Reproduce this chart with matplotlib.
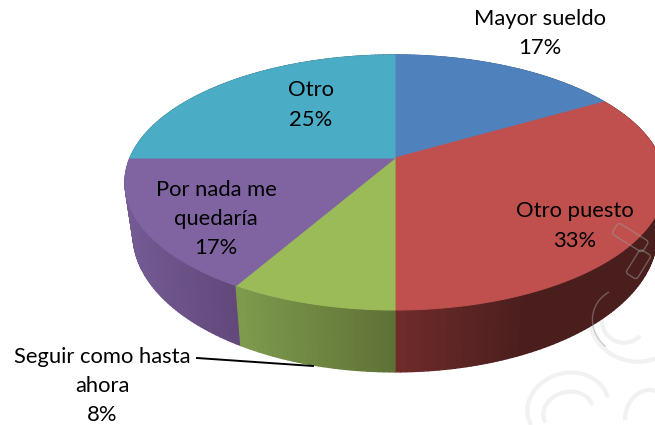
import numpy as np
import matplotlib
matplotlib.use("Agg")
import matplotlib.pyplot as plt
from matplotlib.collections import PolyCollection
from matplotlib.colors import to_rgb
from matplotlib.patches import Arc, FancyBboxPatch, Polygon
from matplotlib.transforms import Affine2D

plt.rcParams['font.family'] = ['Lato', 'DejaVu Sans']

categories = ["Mayor sueldo", "Otro puesto", "Seguir como hasta\nahora", "Por nada me\nquedaría", "Otro"]
counts = [2, 4, 1, 2, 3]
top_colors = ["#4f81bd", "#c0504d", "#9bbb59", "#8064a2", "#4bacc6"]
side_light = ["#3c6290", "#702c2b", "#7f9c4e", "#745b94", "#3a8296"]
side_dark = ["#2d4a6c", "#4a1e1d", "#5f7236", "#62487b", "#2c6272"]

# pie geometry in picture pixels
cx, cy = 395, 158
radius = 265
tilt = 122.8
persp = 0.192
depth = 50
shrink = 0.03


def project(theta, drop=0.0):
    # theta in degrees clockwise from the top of the pie
    t = np.radians(theta)
    u, v = np.sin(t), np.cos(t)
    s = 1 / (1 + persp * v)
    # the bottom rim sits a little further away, so it is narrower
    k = 1 - shrink * drop / depth
    return cx + radius * u * s * k, cy - tilt * v * s + drop * s


def mix(c1, c2, t):
    a, b = np.array(to_rgb(c1)), np.array(to_rgb(c2))
    return tuple(a + (b - a) * t)


fig = plt.figure(figsize=(6.55, 4.25), dpi=100)
ax = fig.add_axes([0, 0, 1, 1])
ax.set_xlim(0, 655)
ax.set_ylim(425, 0)
ax.axis("off")

total = np.sum(counts)
edges = np.concatenate([[0], np.cumsum(counts)]) * 360 / total
pct = [round(100 * c / total) for c in counts]

# watermark behind the pie
wm2 = dict(fill=False, edgecolor="#f1f1f1", linewidth=3, zorder=0)
ax.add_patch(Arc((634, 322), 90, 78, angle=20, theta1=20, theta2=230, **wm2))
ax.add_patch(Arc((625, 318), 46, 50, angle=20, theta1=30, theta2=220, **wm2))
ax.add_patch(Arc((568, 408), 82, 70, angle=-15, theta1=170, theta2=360, **wm2))
ax.add_patch(Arc((568, 412), 50, 40, angle=-15, theta1=170, theta2=360, **wm2))
ax.add_patch(Arc((650, 420), 50, 60, angle=0, theta1=180, theta2=300, **wm2))

# side wall, back to front
quads, quad_cols, quad_v = [], [], []
for i in range(len(counts)):
    th = np.arange(edges[i], edges[i + 1] + 0.01, 1.0)
    front = th[np.cos(np.radians(th)) < 0.35]
    if len(front) == 0:
        front = th
    x0, x1 = project(front)[0].min(), project(front)[0].max()
    for a, b in zip(th[:-1], th[1:]):
        xa, ya = project(a)
        xb, yb = project(b)
        xa2, ya2 = project(a, depth)
        xb2, yb2 = project(b, depth)
        quads.append([(xa, ya), (xb, yb), (xb2, yb2), (xa2, ya2)])
        t = np.clip((xa - x0) / max(x1 - x0, 1), 0, 1)
        if i == 1:
            t = min(1, t * 2)
        quad_cols.append(mix(side_light[i], side_dark[i], t))
        quad_v.append(np.cos(np.radians(a)))
order = np.argsort(quad_v)[::-1]
ax.add_collection(PolyCollection([quads[k] for k in order],
                                 facecolors=[quad_cols[k] for k in order],
                                 edgecolors=[quad_cols[k] for k in order],
                                 linewidths=1.0, zorder=1))

# top face
for i in range(len(counts)):
    th = np.arange(edges[i], edges[i + 1] + 0.01, 0.5)
    xs, ys = project(th)
    pts = np.column_stack([np.r_[cx, xs], np.r_[cy, ys]])
    ax.add_patch(Polygon(pts, closed=True, facecolor=top_colors[i],
                         edgecolor=top_colors[i], linewidth=0.8, zorder=2))

# thin watermark outlines that show over the pie
wm = dict(fill=False, edgecolor="#9a9a9a", linewidth=1.0, alpha=0.5, zorder=3)
rot = Affine2D().rotate_deg_around(630, 238, 32) + ax.transData
ax.add_patch(FancyBboxPatch((612, 231), 36, 13, boxstyle="round,pad=0,rounding_size=3",
                            transform=rot, **wm))
rot = Affine2D().rotate_deg_around(638, 264, 32) + ax.transData
ax.add_patch(FancyBboxPatch((632, 250), 13, 28, boxstyle="round,pad=0,rounding_size=3",
                            transform=rot, **wm))
ax.add_patch(Arc((630, 322), 76, 68, angle=20, theta1=115, theta2=215, **wm))

# labels
lab = dict(ha="center", va="center", fontsize=15.8, color="black", linespacing=1.58, zorder=5)
ax.text(540, 33.5, categories[0] + "\n%d%%" % pct[0], **lab)
ax.text(575, 226, categories[1] + "\n%d%%" % pct[1], **lab)
ax.text(102, 386, categories[2] + "\n%d%%" % pct[2], **lab)
ax.text(216, 219, categories[3] + "\n%d%%" % pct[3], **lab)
ax.text(311, 105, categories[4] + "\n%d%%" % pct[4], **lab)
ax.plot([197, 313], [358, 366], color="black", lw=1.4, zorder=5)

fig.savefig("out.png", dpi=100)
